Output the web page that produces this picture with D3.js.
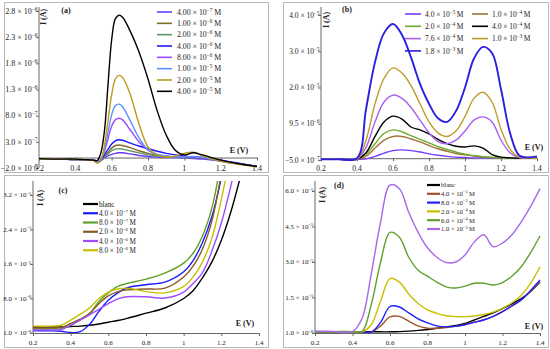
<!DOCTYPE html>
<html>
<head>
<meta charset="utf-8">
<script src="https://cdn.jsdelivr.net/npm/d3@7"></script>
<style>
  body { margin: 0; background: #fff; }
  text { font-family: "Liberation Serif", "DejaVu Serif", serif; fill: #222; }
</style>
</head>
<body>
<div id="chart"></div>
<script>
// ---------- data ----------
// potential axis (V), shared tick labels
const xTicks = [0.2, 0.4, 0.6, 0.8, 1.0, 1.2, 1.4];
const xTickLabels = ["0.2", "0.4", "0.6", "0.8", "1", "1.2", "1.4"];

// panel (a) - currents in 1e-7 A
const voltsA = [0.2, 0.3, 0.4, 0.45, 0.5, 0.52, 0.54, 0.56, 0.58, 0.6, 0.62, 0.64, 0.66, 0.7, 0.75, 0.8, 0.85, 0.9, 0.95, 1.0, 1.05, 1.1, 1.2, 1.3, 1.4];
const namesA = [["4.00", "−7"], ["1.00", "−6"], ["2.00", "−6"], ["4.00", "−6"], ["8.00", "−6"], ["1.00", "−5"], ["2.00", "−5"], ["4.00", "−5"]];
const currentA = [
  [-0.3, -0.3, -0.4, -0.4, -0.5, -0.6, -0.5, -0.1, 0.3, 0.6, 0.8, 0.9, 0.9, 0.7, 0.4, 0.2, 0.1, 0, 0, -0.1, -0.2, -0.3, -0.7, -1.2, -1.7],
  [-0.3, -0.3, -0.4, -0.4, -0.5, -0.7, -0.6, 0.2, 1.0, 1.8, 2.3, 2.4, 2.3, 1.9, 1.3, 0.8, 0.4, 0.2, 0.1, 0, 0, -0.1, -0.6, -1.2, -1.7],
  [-0.3, -0.3, -0.4, -0.4, -0.5, -0.7, -0.5, 0.1, 0.7, 1.3, 1.6, 1.7, 1.6, 1.3, 0.9, 0.5, 0.3, 0.1, 0, 0, 0, -0.1, -0.6, -1.2, -1.7],
  [-0.3, -0.3, -0.4, -0.4, -0.5, -0.8, -0.6, 0.5, 1.6, 2.6, 3.2, 3.4, 3.3, 2.8, 2.2, 1.7, 1.2, 0.8, 0.5, 0.3, 0.1, 0, -0.5, -1.1, -1.7],
  [-0.3, -0.3, -0.4, -0.4, -0.5, -0.8, -0.4, 1.2, 3.6, 6.0, 7.2, 7.5, 7.2, 5.4, 3.0, 1.4, 0.6, 0.3, 0.1, 0.1, 0.1, 0, -0.6, -1.2, -1.7],
  [-0.3, -0.3, -0.4, -0.4, -0.5, -0.8, -0.3, 1.6, 4.8, 8.2, 9.9, 10.2, 9.7, 7.2, 3.8, 1.5, 0.6, 0.3, 0.1, 0.1, 0.2, 0, -0.6, -1.2, -1.7],
  [-0.3, -0.3, -0.4, -0.4, -0.6, -1.1, -0.6, 2.2, 7.0, 12.0, 15.0, 15.7, 15.3, 12.3, 6.5, 2.0, 0.5, 0.1, 0.3, 0.8, 1.0, 0.3, -0.7, -1.3, -1.8],
  [-0.2, -0.3, -0.3, -0.4, -0.5, -0.6, 0.8, 5.0, 14.0, 22.5, 26.5, 27.2, 26.8, 24.3, 20.2, 15.0, 9.0, 4.3, 1.4, 0.5, 0.9, 0.5, -0.5, -1.2, -1.7]
];
const yTicksA = [-2e-7, 3e-7, 8e-7, 1.3e-6, 1.8e-6, 2.3e-6, 2.8e-6];
const yLabelsA = [["−2.0", "−7"], ["3.0", "−7"], ["8.0", "−7"], ["1.3", "−6"], ["1.8", "−6"], ["2.3", "−6"], ["2.8", "−6"]];

// panel (b) - currents in 1e-6 A
const voltsB = [0.2, 0.3, 0.4, 0.45, 0.5, 0.55, 0.6, 0.65, 0.7, 0.75, 0.8, 0.85, 0.9, 0.95, 1.0, 1.05, 1.1, 1.15, 1.2, 1.25, 1.3, 1.35, 1.4];
const namesB = [["4.0", "−5"], ["1.0", "−4"], ["2.0", "−4"], ["4.0", "−4"], ["7.6", "−4"], ["1.0", "−3"], ["1.8", "−3"]];
const currentB = [
  [-0.3, -0.3, -0.3, -0.2, 0.5, 1.4, 2.1, 2.3, 2.1, 1.7, 1.2, 0.8, 0.5, 0.3, 0.2, 0.1, 0.1, 0, 0, 0, 0, 0, 0],
  [-0.3, -0.3, -0.3, 0.5, 2.8, 5.0, 6.0, 6.0, 5.3, 4.5, 3.5, 2.6, 1.9, 1.3, 0.9, 0.6, 0.4, 0.2, 0.1, 0, 0, 0, 0],
  [-0.3, -0.3, -0.3, 1.0, 4.0, 6.8, 7.8, 7.3, 6.2, 5.2, 4.2, 3.2, 2.4, 1.7, 1.1, 0.7, 0.4, 0.2, 0.1, 0, 0, 0, 0],
  [-0.3, -0.3, -0.3, 1.5, 6.0, 10.0, 11.6, 10.8, 8.6, 7.8, 6.7, 5.2, 4.0, 3.3, 3.1, 3.4, 2.8, 1.0, 0.3, 0.1, 0, 0, 0],
  [-0.3, -0.3, -0.3, 3.0, 10.0, 15.5, 17.4, 16.5, 14.0, 10.5, 7.0, 4.6, 4.0, 5.0, 7.5, 10.5, 11.4, 10.0, 5.0, 1.5, 0.2, 0, 0],
  [-0.3, -0.3, -0.3, 5.0, 15.0, 22.0, 24.9, 23.5, 20.0, 15.0, 10.0, 7.0, 6.0, 7.5, 11.5, 16.5, 18.2, 15.5, 8.0, 2.5, 0.3, 0, 0],
  [-0.3, -0.3, 0, 13.5, 26.5, 34.5, 37.0, 34.0, 27.8, 20.5, 15.0, 11.0, 10.0, 13.0, 19.5, 27.5, 30.7, 29.0, 19.0, 7.0, 0.8, 0.2, 0.5]
];
const yTicksB = [-5e-7, 9.5e-6, 1.95e-5, 2.95e-5, 3.95e-5];
const yLabelsB = [["−5.0", "−7"], ["9.5", "−6"], ["2.0", "−5"], ["3.0", "−5"], ["4.0", "−5"]];

// panel (c) - currents in 1e-6 A
const voltsC = [0.2, 0.3, 0.35, 0.4, 0.45, 0.5, 0.55, 0.6, 0.65, 0.7, 0.8, 0.9, 1.0, 1.05, 1.1, 1.15, 1.2, 1.25, 1.3];
const namesC = ["blanc", ["4.0", "−7"], ["8.0", "−7"], ["2.0", "−6"], ["4.0", "−6"], ["8.0", "−6"]];
const currentC = [
  [1.4, 1.4, 1.4, 1.5, 1.6, 1.8, 2.1, 2.5, 2.9, 3.4, 4.6, 5.8, 8.0, 9.8, 12.8, 16.5, 21.5, 28, 36],
  [0.5, 0.5, 0.4, 0.1, 0.3, 2.0, 5.0, 7.6, 9.3, 10.5, 11.2, 11.8, 14.2, 16.8, 21, 27, 36, 48, 60],
  [1.0, 1.0, 1.0, 1.8, 3.0, 4.5, 7.3, 9.3, 10.8, 11.5, 12.5, 13.9, 16.2, 18.5, 22.5, 29, 40, 52, 64],
  [1.2, 1.2, 1.3, 2.2, 3.2, 4.5, 6.8, 8.6, 9.6, 10.0, 10.2, 10.4, 13, 15.5, 19.5, 26, 37, 50, 62],
  [0.7, 0.7, 0.8, 1.8, 3.0, 4.2, 5.5, 6.8, 7.9, 8.4, 8.4, 8.1, 9.5, 11.5, 14, 19, 25.5, 34, 44],
  [1.6, 1.6, 1.8, 3.0, 4.3, 5.8, 8.0, 9.5, 10.2, 10.4, 9.6, 9.3, 10.8, 13, 16.5, 22, 31, 42, 54]
];
const yTicksC = [1e-8, 8.01e-6, 1.601e-5, 2.401e-5, 3.201e-5];
const yLabelsC = [["1.0", "−8"], ["8.0", "−6"], ["1.6", "−5"], ["2.4", "−5"], ["3.2", "−5"]];

// panel (d) - currents in 1e-6 A
const voltsD = [0.2, 0.3, 0.4, 0.45, 0.5, 0.55, 0.6, 0.65, 0.7, 0.75, 0.8, 0.85, 0.9, 0.95, 1.0, 1.05, 1.1, 1.15, 1.2, 1.25, 1.3, 1.35, 1.4];
const namesD = ["blanc", ["4.0", "−5"], ["8.0", "−5"], ["2.0", "−4"], ["6.0", "−4"], ["1.0", "−3"]];
const currentD = [
  [0.5, 0.5, 0.5, 0.5, 0.5, 0.5, 0.5, 0.6, 0.8, 1.1, 1.5, 2.0, 2.6, 3.2, 4.0, 5.5, 7.0, 8.5, 10.3, 12.3, 14.5, 17.5, 21.5],
  [0.5, 0.5, 0.5, 0.5, 0.4, 3.0, 6.8, 7.0, 5.0, 3.0, 2.0, 2.0, 2.3, 2.8, 3.6, 4.6, 5.6, 7.0, 9.0, 11.3, 14.0, 17.5, 21.5],
  [0.5, 0.5, 0.5, 0.5, 0.4, 4.5, 11.2, 11.0, 8.5, 6.0, 4.3, 3.0, 2.6, 2.8, 3.5, 4.5, 5.5, 7.0, 9.0, 11.5, 14.0, 18.0, 22.4],
  [0.5, 0.5, 0.5, 0.5, 3.5, 13.5, 23.0, 21.5, 16.5, 12.5, 9.8, 8.3, 7.3, 6.9, 6.9, 7.2, 7.8, 8.8, 10.4, 12.8, 16.0, 21.0, 28.0],
  [0.6, 0.6, 0.6, 0.5, 12.0, 30.0, 42.5, 40.5, 32.0, 26.5, 24.0, 21.5, 19.5, 19.0, 19.8, 21.0, 21.0, 20.3, 21.3, 24.0, 28.0, 34.0, 41.0],
  [0.8, 0.7, 0.6, 6.0, 25.0, 47.0, 62.5, 61.0, 51.0, 42.5, 36.0, 32.0, 29.8, 30.0, 33.0, 38.5, 41.5, 36.5, 38.0, 41.5, 47.0, 53.5, 61.0]
];
const yTicksD = [1e-8, 1.501e-5, 3.001e-5, 4.501e-5, 6.001e-5];
const yLabelsD = [["1.0", "−8"], ["1.5", "−5"], ["3.0", "−5"], ["4.5", "−5"], ["6.0", "−5"]];

// ---------- drawing ----------
const svg = d3.select("#chart").append("svg")
  .attr("width", 550)
  .attr("height", 349);

// "2.8 × 10^-6" style label with a raised exponent
function writeSci(text, label, suffix, fs) {
  if (typeof label === "string") { text.text(label); return; }
  text.append("tspan").text(label[0] + " × 10");
  text.append("tspan").attr("font-size", fs * 0.68).attr("dy", -fs * 0.4).text(label[1]);
  text.append("tspan").attr("dy", fs * 0.4).text(suffix);
}

function drawPanel(p) {
  const g = svg.append("g");

  g.append("rect")
    .attr("x", p.box[0] + 0.5).attr("y", p.box[1] + 0.5)
    .attr("width", p.box[2] - p.box[0]).attr("height", p.box[3] - p.box[1])
    .attr("fill", "#fff").attr("stroke", "#b8b8b8");

  const x = d3.scaleLinear().domain([0.2, 1.4]).range(p.xRange);
  const y = d3.scaleLinear().domain(p.yDomain).range(p.yRange);

  // y axis
  const yAx = g.append("g")
    .attr("transform", `translate(${p.xRange[0]},0)`)
    .call(d3.axisLeft(y).tickValues(p.yTicks).tickSize(3).tickFormat(""));
  yAx.select(".domain").remove();
  yAx.selectAll("line").attr("stroke", "#666");
  g.append("line")
    .attr("x1", p.xRange[0]).attr("x2", p.xRange[0])
    .attr("y1", p.yRange[0]).attr("y2", p.plotTop)
    .attr("stroke", "#666");

  // x axis sits on I = 0
  const xAx = g.append("g")
    .attr("transform", `translate(0,${y(0)})`)
    .call(d3.axisBottom(x).tickValues(xTicks).tickSize(3).tickSizeOuter(0).tickFormat(""));
  xAx.selectAll("line,path").attr("stroke", "#666");

  g.selectAll(".xlab").data(xTicks).join("text")
    .attr("class", "xlab")
    .attr("x", d => x(d)).attr("y", p.xLabelY)
    .attr("text-anchor", "middle").attr("font-size", p.fs)
    .text((d, i) => xTickLabels[i]);

  g.selectAll(".ylab").data(p.yTicks).join("text")
    .attr("class", "ylab")
    .attr("x", p.xRange[0] - 1.5).attr("y", d => y(d))
    .attr("dy", "0.35em").attr("text-anchor", "end").attr("font-size", p.fs)
    .each(function(d, i) { writeSci(d3.select(this), p.yLabels[i], "", p.fs); });

  // curves
  const clipId = "clip-" + p.id;
  g.append("clipPath").attr("id", clipId).append("rect")
    .attr("x", p.xRange[0] - 1).attr("y", p.plotTop)
    .attr("width", p.xRange[1] - p.xRange[0] + 4)
    .attr("height", p.box[3] - p.plotTop - 2);

  const line = d3.line()
    .x((d, i) => x(p.volts[i]))
    .y(d => y(d * p.unit))
    .curve(d3.curveCatmullRom.alpha(0.5));

  g.append("g").attr("clip-path", `url(#${clipId})`)
    .selectAll("path").data(p.series).join("path")
    .attr("d", d => line(d))
    .attr("fill", "none")
    .attr("stroke", (d, i) => p.colors[i])
    .attr("stroke-width", (d, i) => p.widths ? p.widths[i] : 1.4);

  // legend
  const L = p.legend;
  const items = g.selectAll(".leg").data(p.names).join("g")
    .attr("class", "leg")
    .attr("transform", (d, i) => `translate(${L.x + (i % L.cols) * L.colW},${L.y + Math.floor(i / L.cols) * L.dy})`);
  items.append("line")
    .attr("x1", 0).attr("x2", L.len)
    .attr("stroke", (d, i) => p.colors[i])
    .attr("stroke-width", L.lw);
  items.append("text")
    .attr("x", L.len + L.gap).attr("dy", "0.35em")
    .attr("font-size", L.fs)
    .each(function(d) { writeSci(d3.select(this), d, L.suffix, L.fs); });

  // titles
  g.append("text").attr("x", p.tag[0]).attr("y", p.tag[1])
    .attr("text-anchor", "middle").attr("font-size", 8).attr("font-weight", "bold")
    .text(p.tagText);
  g.append("text").attr("x", p.eLab[0]).attr("y", p.eLab[1])
    .attr("text-anchor", "middle").attr("font-size", 8).attr("font-weight", "bold")
    .text("E (V)");
  g.append("text")
    .attr("transform", `translate(${p.iLab[0]},${p.iLab[1]}) rotate(-90)`)
    .attr("text-anchor", "middle").attr("font-size", 8).attr("font-weight", "bold")
    .text("I (A)");
}

drawPanel({
  id: "a", box: [4, 2, 268, 172],
  xRange: [39, 257], yDomain: [-2e-7, 2.8e-6], yRange: [168, 11], plotTop: 7,
  yTicks: yTicksA, yLabels: yLabelsA, xLabelY: 171, fs: 8,
  volts: voltsA, series: currentA, unit: 1e-7, names: namesA,
  colors: ["#6a3cff", "#7f6a2a", "#5f9460", "#1a1aff", "#9a4cff", "#5b8fff", "#c09a1e", "#000000"],
  legend: { x: 157, y: 12, dy: 11.33, cols: 1, colW: 0, len: 15, gap: 5, lw: 1.6, fs: 7.8, suffix: " M" },
  tag: [66, 13], tagText: "(a)", eLab: [239, 153], iLab: [46, 17]
});

drawPanel({
  id: "b", box: [283, 2, 548, 172],
  xRange: [321, 537], yDomain: [-5e-7, 3.95e-5], yRange: [160, 15], plotTop: 7,
  yTicks: yTicksB, yLabels: yLabelsB, xLabelY: 171, fs: 7.5,
  volts: voltsB, series: currentB, unit: 1e-6, names: namesB,
  colors: ["#7b3bff", "#a4723c", "#6aaa2c", "#000000", "#a95ff0", "#c09a2c", "#2a1ee0"],
  widths: [1.4, 1.4, 1.4, 1.4, 1.4, 1.4, 1.9],
  legend: { x: 405, y: 14, dy: 12.3, cols: 2, colW: 67, len: 16, gap: 4, lw: 1.6, fs: 7.5, suffix: "\u2009M" },
  tag: [347, 12], tagText: "(b)", eLab: [534, 150], iLab: [329, 20]
});

drawPanel({
  id: "c", box: [4, 175, 268, 347],
  xRange: [33, 259], yDomain: [0, 3.2e-5], yRange: [333, 195], plotTop: 181,
  yTicks: yTicksC, yLabels: yLabelsC, xLabelY: 345, fs: 7,
  volts: voltsC, series: currentC, unit: 1e-6, names: namesC,
  colors: ["#000000", "#1a1aff", "#5fa02a", "#8b5a2b", "#a04cff", "#c4c000"],
  legend: { x: 83, y: 204, dy: 9.25, cols: 1, colW: 0, len: 15, gap: 1, lw: 2.2, fs: 7.2, suffix: "\u2009M" },
  tag: [63, 193], tagText: "(c)", eLab: [245, 326], iLab: [43, 198]
});

drawPanel({
  id: "d", box: [283, 175, 548, 347],
  xRange: [315, 540], yDomain: [0, 6e-5], yRange: [333, 191], plotTop: 181,
  yTicks: yTicksD, yLabels: yLabelsD, xLabelY: 345, fs: 7,
  volts: voltsD, series: currentD, unit: 1e-6, names: namesD,
  colors: ["#000000", "#a0522d", "#2020ff", "#c8c000", "#5ea02c", "#a868e8"],
  legend: { x: 427, y: 185, dy: 8.8, cols: 1, colW: 0, len: 13, gap: 1, lw: 2.2, fs: 6.6, suffix: "\u2009M" },
  tag: [339, 188], tagText: "(d)", eLab: [534, 329], iLab: [325, 195]
});
</script>
</body>
</html>
